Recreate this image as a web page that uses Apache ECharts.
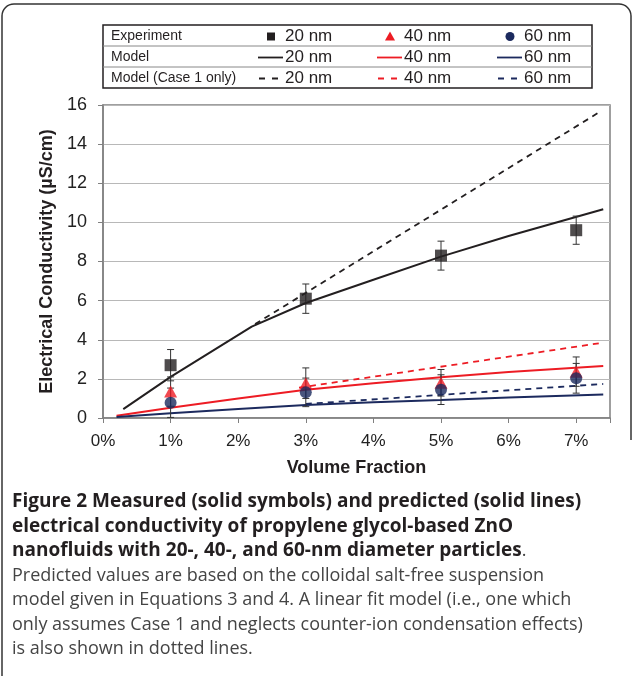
<!DOCTYPE html>
<html>
<head>
<meta charset="utf-8">
<script src="https://cdn.jsdelivr.net/npm/echarts@6/dist/echarts.min.js"></script>
<style>
  html, body { margin: 0; padding: 0; background: #fff; overflow: hidden; }
  #chart { width: 633px; height: 676px; }
</style>
</head>
<body>
<div id="chart"></div>
<script>
// measured points (volume fraction in %)
var expX = [1, 3, 5, 7];
var exp20 = [2.7, 6.1, 8.3, 9.6];
var exp40 = [1.35, 1.78, 1.8, 2.37];
var exp60 = [0.78, 1.31, 1.45, 2.03];
var err20 = [0.8, 0.75, 0.74, 0.72];
var err40 = [0.75, 0.78, 0.68, 0.75];
var err60 = [0.75, 0.73, 0.76, 0.76];

// model curves
var model20X = [0.3, 1, 2.2, 3, 4, 5, 6, 7.4];
var model20Y = [0.45, 2.1, 4.67, 5.88, 7.07, 8.25, 9.3, 10.67];
var model40X = [0.2, 1, 2, 3, 4, 5, 6, 7.4];
var model40Y = [0.12, 0.52, 1.0, 1.45, 1.78, 2.08, 2.35, 2.66];
var model60X = [0.2, 1, 2, 3, 4, 5, 6, 7.4];
var model60Y = [0.05, 0.24, 0.46, 0.66, 0.8, 0.92, 1.05, 1.2];

// case 1 only (linear fit)
var case20X = [2.25, 7.35];
var case20Y = [4.8, 15.65];
var case40X = [2.9, 7.4];
var case40Y = [1.55, 3.85];
var case60X = [3.0, 7.4];
var case60Y = [0.72, 1.74];

var sizeLabels = ['20 nm', '40 nm', '60 nm'];
var rowLabels = ['Experiment', 'Model', 'Model (Case 1 only)'];

var captionBold = [
  'Figure 2 Measured (solid symbols) and predicted (solid lines)',
  'electrical conductivity of propylene glycol-based ZnO',
  'nanofluids with 20-, 40-, and 60-nm diameter particles'
];
var captionText = [
  'Predicted values are based on the colloidal salt-free suspension',
  'model given in Equations 3 and 4. A linear fit model (i.e., one which',
  'only assumes Case 1 and neglects counter-ion condensation effects)',
  'is also shown in dotted lines.'
];

var BLACK = '#231f20', RED = '#ed1c24', NAVY = '#1c2a5e';
var colors = [BLACK, RED, NAVY];

function pairs(xs, ys) {
  return xs.map(function (x, i) { return [x, ys[i]]; });
}
function errData(ys, errs) {
  return expX.map(function (x, i) { return [x, ys[i] - errs[i], ys[i] + errs[i]]; });
}

function renderErr(params, api) {
  var x = api.value(0);
  var lo = api.coord([x, api.value(1)]);
  var hi = api.coord([x, api.value(2)]);
  var w = 3.5;
  var st = { stroke: '#333', lineWidth: 1 };
  return {
    type: 'group',
    children: [
      { type: 'line', shape: { x1: lo[0], y1: lo[1], x2: hi[0], y2: hi[1] }, style: st },
      { type: 'line', shape: { x1: lo[0] - w, y1: lo[1], x2: lo[0] + w, y2: lo[1] }, style: st },
      { type: 'line', shape: { x1: hi[0] - w, y1: hi[1], x2: hi[0] + w, y2: hi[1] }, style: st }
    ]
  };
}

function lineSeries(name, data, color, dashed) {
  return {
    name: name, type: 'line', data: data, symbol: 'none', z: 3,
    lineStyle: { color: color, width: dashed ? 1.8 : 2, type: dashed ? [6, 5] : 'solid' }
  };
}

// legend table drawn with graphic elements
var legend = [];
var tableX = 103, tableY = 25, rowH = 21;
legend.push({ type: 'rect', shape: { x: tableX, y: tableY, width: 489, height: rowH * 3 },
  style: { fill: '#fff', stroke: BLACK, lineWidth: 1.5 }, z: 10 });
legend.push({ type: 'line', shape: { x1: tableX, y1: tableY + rowH, x2: tableX + 489, y2: tableY + rowH },
  style: { stroke: '#888', lineWidth: 1 }, z: 11 });
legend.push({ type: 'line', shape: { x1: tableX, y1: tableY + rowH * 2, x2: tableX + 489, y2: tableY + rowH * 2 },
  style: { stroke: '#888', lineWidth: 1 }, z: 11 });
var colX = [258, 377, 497];
rowLabels.forEach(function (lab, r) {
  var cy = tableY + rowH * r + rowH / 2 + 1;
  legend.push({ type: 'text', x: 111, y: cy, z: 12,
    style: { text: lab, fill: BLACK, font: '14px "Liberation Sans", Arial, sans-serif', verticalAlign: 'middle' } });
  sizeLabels.forEach(function (s, c) {
    legend.push({ type: 'text', x: colX[c] + 27, y: cy, z: 12,
      style: { text: s, fill: BLACK, font: '17px "Liberation Sans", Arial, sans-serif', verticalAlign: 'middle' } });
    var mx = colX[c] + 13;
    if (r === 0) {
      if (c === 0) legend.push({ type: 'rect', shape: { x: mx - 4, y: cy - 4, width: 8, height: 8 }, style: { fill: colors[c] }, z: 12 });
      if (c === 1) legend.push({ type: 'polygon', shape: { points: [[mx, cy - 5], [mx + 5, cy + 4], [mx - 5, cy + 4]] }, style: { fill: colors[c] }, z: 12 });
      if (c === 2) legend.push({ type: 'circle', shape: { cx: mx, cy: cy, r: 4.5 }, style: { fill: colors[c] }, z: 12 });
    } else if (r === 1) {
      legend.push({ type: 'line', shape: { x1: colX[c], y1: cy, x2: colX[c] + 25, y2: cy }, style: { stroke: colors[c], lineWidth: 1.8 }, z: 12 });
    } else {
      legend.push({ type: 'line', shape: { x1: colX[c] + 1, y1: cy, x2: colX[c] + 20, y2: cy }, style: { stroke: colors[c], lineWidth: 1.8, lineDash: [6, 7] }, z: 12 });
    }
  });
});

// frame round the figure
var frameStyle = { fill: 'none', stroke: '#333', lineWidth: 1.5 };
legend.push({ type: 'polyline', shape: { points: [[2, 676], [2, 16]] }, style: frameStyle, z: 1 });
legend.push({ type: 'arc', shape: { cx: 14, cy: 16, r: 12, startAngle: Math.PI, endAngle: Math.PI * 1.5 }, style: frameStyle, z: 1 });
legend.push({ type: 'polyline', shape: { points: [[14, 4], [619, 4]] }, style: frameStyle, z: 1 });
legend.push({ type: 'arc', shape: { cx: 619, cy: 16, r: 12, startAngle: Math.PI * 1.5, endAngle: Math.PI * 2 }, style: frameStyle, z: 1 });
legend.push({ type: 'polyline', shape: { points: [[631, 16], [631, 440]] }, style: frameStyle, z: 1 });

// caption
var capY = 502, capH = 24.5;
var boldFont = 'bold 19px "Open Sans", sans-serif';
var plainFont = '18px "Open Sans", sans-serif';
captionBold.forEach(function (t, i) {
  var el = { type: 'text', x: 12, y: capY + capH * i, z: 12 };
  if (i === 2) {
    el.style = { text: '{b|' + t + '}{r|.}', verticalAlign: 'middle',
      rich: { b: { font: boldFont, fill: BLACK }, r: { font: plainFont, fill: '#444' } } };
  } else {
    el.style = { text: t, fill: BLACK, font: boldFont, verticalAlign: 'middle' };
  }
  legend.push(el);
});
captionText.forEach(function (t, i) {
  legend.push({ type: 'text', x: 12, y: capY + capH * (i + 3), z: 12,
    style: { text: t, fill: '#444', font: plainFont, verticalAlign: 'middle' } });
});

var chart = echarts.init(document.getElementById('chart'), null, { renderer: 'canvas' });
chart.setOption({
  backgroundColor: '#fff',
  animation: false,
  grid: { left: 103, right: 23, top: 105, bottom: 258, show: true, borderColor: '#808080', borderWidth: 1.5 },
  xAxis: {
    type: 'value', min: 0, max: 7.5, interval: 1,
    name: 'Volume Fraction', nameLocation: 'middle', nameGap: 41,
    nameTextStyle: { fontFamily: 'Liberation Sans', fontWeight: 'bold', fontSize: 18, color: BLACK },
    axisLine: { show: true, lineStyle: { color: '#808080', width: 1.5 } },
    axisTick: { show: true, inside: false, length: 5, lineStyle: { color: '#808080' } },
    axisLabel: { margin: 15, fontFamily: 'Liberation Sans', fontSize: 17, color: '#222',
      formatter: function (v) { return v > 7 ? '' : v + '%'; } },
    splitLine: { show: false }
  },
  yAxis: {
    type: 'value', min: 0, max: 16, interval: 2,
    name: 'Electrical Conductivity (\u00b5S/cm)', nameLocation: 'middle', nameGap: 44,
    nameTextStyle: { fontFamily: 'Liberation Sans', fontWeight: 'bold', fontSize: 18, color: BLACK },
    axisLine: { show: true, lineStyle: { color: '#808080', width: 1.5 } },
    axisTick: { show: true, inside: false, length: 5, lineStyle: { color: '#808080' } },
    axisLabel: { margin: 16, fontFamily: 'Liberation Sans', fontSize: 18, color: '#222' },
    splitLine: { show: true, lineStyle: { color: '#b8b8b8', width: 1.2 } }
  },
  graphic: { elements: legend },
  series: [
    lineSeries('model20', pairs(model20X, model20Y), BLACK, false),
    lineSeries('model40', pairs(model40X, model40Y), RED, false),
    lineSeries('model60', pairs(model60X, model60Y), NAVY, false),
    lineSeries('case20', pairs(case20X, case20Y), BLACK, true),
    lineSeries('case40', pairs(case40X, case40Y), RED, true),
    lineSeries('case60', pairs(case60X, case60Y), NAVY, true),
    { type: 'custom', name: 'err20', renderItem: renderErr, data: errData(exp20, err20), encode: { x: 0, y: [1, 2] }, z: 4 },
    { type: 'custom', name: 'err40', renderItem: renderErr, data: errData(exp40, err40), encode: { x: 0, y: [1, 2] }, z: 4 },
    { type: 'custom', name: 'err60', renderItem: renderErr, data: errData(exp60, err60), encode: { x: 0, y: [1, 2] }, z: 4 },
    { type: 'scatter', name: 'exp20', data: pairs(expX, exp20), symbol: 'rect', symbolSize: 12, itemStyle: { color: BLACK }, z: 5 },
    { type: 'scatter', name: 'exp40', data: pairs(expX, exp40), symbol: 'triangle', symbolSize: [13, 12], itemStyle: { color: RED }, z: 5 },
    { type: 'scatter', name: 'exp60', data: pairs(expX, exp60), symbol: 'circle', symbolSize: 12, itemStyle: { color: NAVY }, z: 6 }
  ]
});
</script>
</body>
</html>
